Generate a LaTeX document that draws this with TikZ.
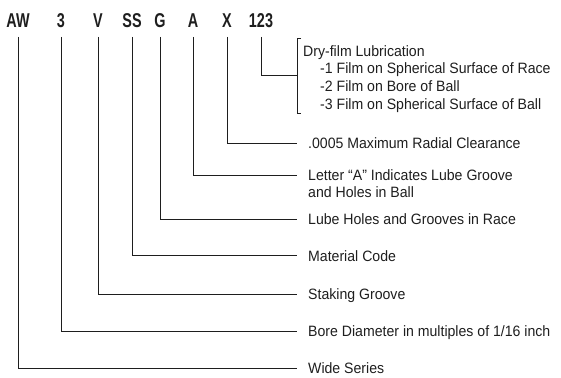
\documentclass[tikz,border=0pt]{standalone}
\usepackage{fontspec}
\setmainfont{Liberation Sans}[FakeStretch=0.94]
\newfontfamily\codefont{Liberation Sans}[FakeStretch=0.72]
\usepackage{xcolor}
\usepackage{tikz}
\definecolor{ink}{RGB}{30,30,30}

\begin{document}
\begin{tikzpicture}[
    x=1pt, y=-1pt,
    every node/.style={text=ink},
    code/.style={font=\codefont\bfseries\fontsize{20}{20}\selectfont, anchor=south, text depth=0pt, inner xsep=0pt, inner ysep=9pt},
    lbl/.style={font=\fontsize{15}{17}\selectfont, anchor=base west, inner xsep=11pt, inner ysep=0pt, align=left},
    lead/.style={draw=ink, line width=0.9pt},
]
    \useasboundingbox (0,0) rectangle (561,377);

    % Part number
    \node[code] (aw)   at (18,37)  {AW};
    \node[code] (bore) at (61,37)  {3};
    \node[code] (v)    at (98,37)  {V};
    \node[code] (ss)   at (132,37) {SS};
    \node[code] (g)    at (160,37) {G};
    \node[code] (a)    at (193,37) {A};
    \node[code] (x)    at (227,37) {X};
    \node[code] (film) at (261,37) {123};

    % Descriptions (base of a multi-line node = its last line)
    \node[lbl, inner xsep=0pt, font=\fontsize{15}{17.8}\selectfont] (dry) at (303,109.5) {Dry-film Lubrication\\
        \hspace*{17pt}-1 Film on Spherical Surface of Race\\
        \hspace*{17pt}-2 Film on Bore of Ball\\
        \hspace*{17pt}-3 Film on Spherical Surface of Ball};
    \node[lbl] (clear)    at (297,148.5) {.0005 Maximum Radial Clearance};
    \node[lbl] (letter)   at (297,197.5) {Letter \textquotedblleft A\textquotedblright\ Indicates Lube Groove\\and Holes in Ball};
    \node[lbl] (holes)    at (297,224.5) {Lube Holes and Grooves in Race};
    \node[lbl] (material) at (297,261)   {Material Code};
    \node[lbl] (staking)  at (297,299.5) {Staking Groove};
    \node[lbl] (diam)     at (297,336.5) {Bore Diameter in multiples of 1/16 inch};
    \node[lbl] (wide)     at (297,373.5) {Wide Series};

    % Bracket
    \coordinate (brtop) at (297,38);
    \coordinate (brmid) at (297,75.5);
    \coordinate (brbot) at (297,113);
    \draw[lead] ([xshift=4pt]brtop) -- (brtop) -- (brbot) -- ([xshift=4pt]brbot);

    % Leaders
    \draw[lead] (film.south) |- (brmid);
    \draw[lead] (x.south) |- ([yshift=5.5pt]clear.base west);
    \draw[lead] (a.south) |- ([yshift=22.5pt]letter.base west);
    \draw[lead] (g.south) |- ([yshift=5.5pt]holes.base west);
    \draw[lead] (ss.south) |- ([yshift=5.5pt]material.base west);
    \draw[lead] (v.south) |- ([yshift=5.5pt]staking.base west);
    \draw[lead] (bore.south) |- ([yshift=5.5pt]diam.base west);
    \draw[lead] (aw.south) |- ([yshift=5.5pt]wide.base west);
\end{tikzpicture}
\end{document}
